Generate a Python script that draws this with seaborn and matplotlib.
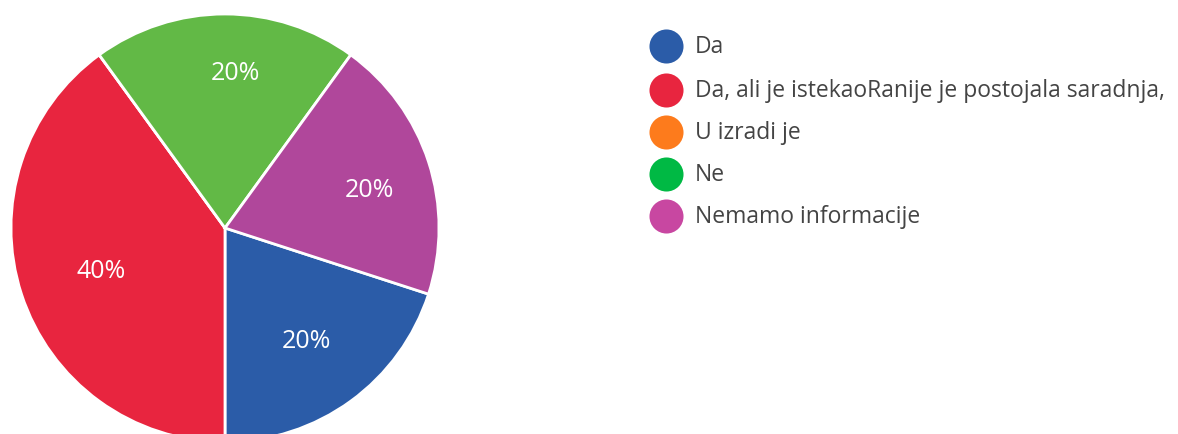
import numpy as np
import matplotlib.pyplot as plt
import seaborn as sns

sns.set_theme(style="white")
plt.rcParams["font.family"] = ["Open Sans", "DejaVu Sans"]

labels = ["Da", "Da, ali je istekaoRanije je postojala saradnja,", "U izradi je", "Ne", "Nemamo informacije"]
counts = [1, 2, 0, 1, 1]
pie_colors = ["#2b5ca8", "#e8253f", "#fd7b1c", "#62b946", "#b0479b"]
legend_colors = ["#2b5ca8", "#e8253f", "#fd7b1c", "#00b944", "#c847a1"]

# label placement per slice (fraction of radius, angle shift in degrees)
label_dist = [0.65, 0.61, 0.7, 0.73, 0.70]
label_shift = [0, 1, 0, -4, -3]

W, H = 1178, 435
fig = plt.figure(figsize=(W / 100, H / 100), dpi=100)

# pie axes, placed in pixels
cx, cy, r = 225, 229, 214
ax = fig.add_axes([(cx - r) / W, (H - cy - r) / H, 2 * r / W, 2 * r / H])
wedges, _, autotexts = ax.pie(
    counts,
    colors=pie_colors,
    startangle=-18,
    counterclock=False,
    autopct=lambda p: f"{p:.0f}%" if p > 0 else "",
    pctdistance=0.68,
    wedgeprops=dict(edgecolor="white", linewidth=2),
    textprops=dict(color="white", fontsize=18),
)
for w, t, d, s in zip(wedges, autotexts, label_dist, label_shift):
    ang = np.deg2rad((w.theta1 + w.theta2) / 2 + s)
    t.set_position((d * np.cos(ang), d * np.sin(ang)))
ax.set_xlim(-1, 1)
ax.set_ylim(-1, 1)
ax.axis("off")

# legend in pixel coords
lax = fig.add_axes([0, 0, 1, 1])
lax.set_xlim(0, W)
lax.set_ylim(H, 0)
lax.axis("off")
row_y = [47, 91, 133, 175, 217]
for y, lab, col in zip(row_y, labels, legend_colors):
    lax.scatter([666], [y], s=34 ** 2 * 0.52, color=col, linewidths=0)
    lax.text(695, y, lab, va="center", ha="left", fontsize=16.5, color="#444444")

fig.savefig("out.png", dpi=100, facecolor="white")
